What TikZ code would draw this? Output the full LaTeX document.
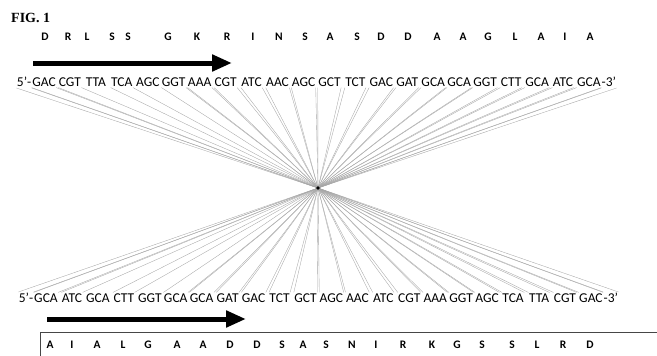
\documentclass[tikz,border=0pt]{standalone}
\usepackage{fontspec}
\setmainfont{Carlito}
\newfontfamily\figfont{Liberation Serif}
\usetikzlibrary{arrows.meta,positioning}
\tikzset{
  codon/.style={inner xsep=0.3pt,inner ysep=1pt,font=\fontsize{13.5}{15}\selectfont},
  amino/.style={inner sep=0pt,font=\fontsize{11.5}{13}\selectfont\bfseries},
  fanline/.style={gray!70,line width=0.35pt},
  bigarrow/.style={line width=5pt,-{Triangle[length=20pt,width=16pt]}},
  boxline/.style={gray!55!black,line width=1pt}
}

\begin{document}
\begin{tikzpicture}[x=1pt,y=-1pt]
  \useasboundingbox (0,0) rectangle (657,356);
  \node[anchor=west,inner sep=0pt,font=\figfont\bfseries\fontsize{14}{16}\selectfont] (fig) at (11,18) {FIG. 1};

  \foreach \a/\x [count=\i] in {D/45,R/68,L/87,S/112,S/128,G/168,K/197,R/227,I/253,N/279,S/305,A/330,S/357,D/381,D/408,A/437,A/463,G/488,L/515,A/541,I/565,A/590}
    \node[amino] (ta\i) at (\x,37) {\a};
  \foreach \c [count=\i] in {GAC,CGT,TTA,TCA,AGC,GGT,AAA,CGT,ATC,AAC,AGC,GCT,TCT,GAC,GAT,GCA,GCA,GGT,CTT,GCA,ATC,GCA}
    \node[codon] (t\i) at ({44+25.95*(\i-1)},82) {\c};
  \node[codon,left=0pt of t1] (t5) {5'-};
  \node[codon,right=0pt of t22] (t3) {-3'};

  \foreach \c [count=\i] in {GCA,ATC,GCA,CTT,GGT,GCA,GCA,GAT,GAC,TCT,GCT,AGC,AAC,ATC,CGT,AAA,GGT,AGC,TCA,TTA,CGT,GAC}
    \node[codon] (b\i) at ({46+25.95*(\i-1)},298) {\c};
  \node[codon,left=0pt of b1] (b5) {5'-};
  \node[codon,right=0pt of b22] (b3) {-3'};
  \foreach \a/\x [count=\i] in {A/50,I/72,A/97,L/123,G/148,A/177,A/203,D/230,D/257,S/282,A/303,S/326,N/352,I/376,R/403,K/432,G/457,S/482,S/512,L/537,R/563,D/590}
    \node[amino] (ba\i) at (\x,345) {\a};

  \coordinate (hub) at (318,188);
  \foreach \i in {1,...,22} {
    \draw[fanline] (t\i.south west) -- (hub);
    \draw[fanline] (t\i.south east) -- (hub);
    \draw[fanline] (hub) -- (b\i.north west);
    \draw[fanline] (hub) -- (b\i.north east);
  }
  \fill (hub) circle (1.8pt);

  \coordinate (ta0) at (33,63);
  \coordinate (tb0) at (232,63);
  \draw[bigarrow] (ta0) -- (tb0);
  \coordinate (ba0) at (47,319);
  \coordinate (bb0) at (246,319);
  \draw[bigarrow] (ba0) -- (bb0);

  \draw[boxline] (657,332) -- (40,332) -- (40,356);
\end{tikzpicture}
\end{document}
